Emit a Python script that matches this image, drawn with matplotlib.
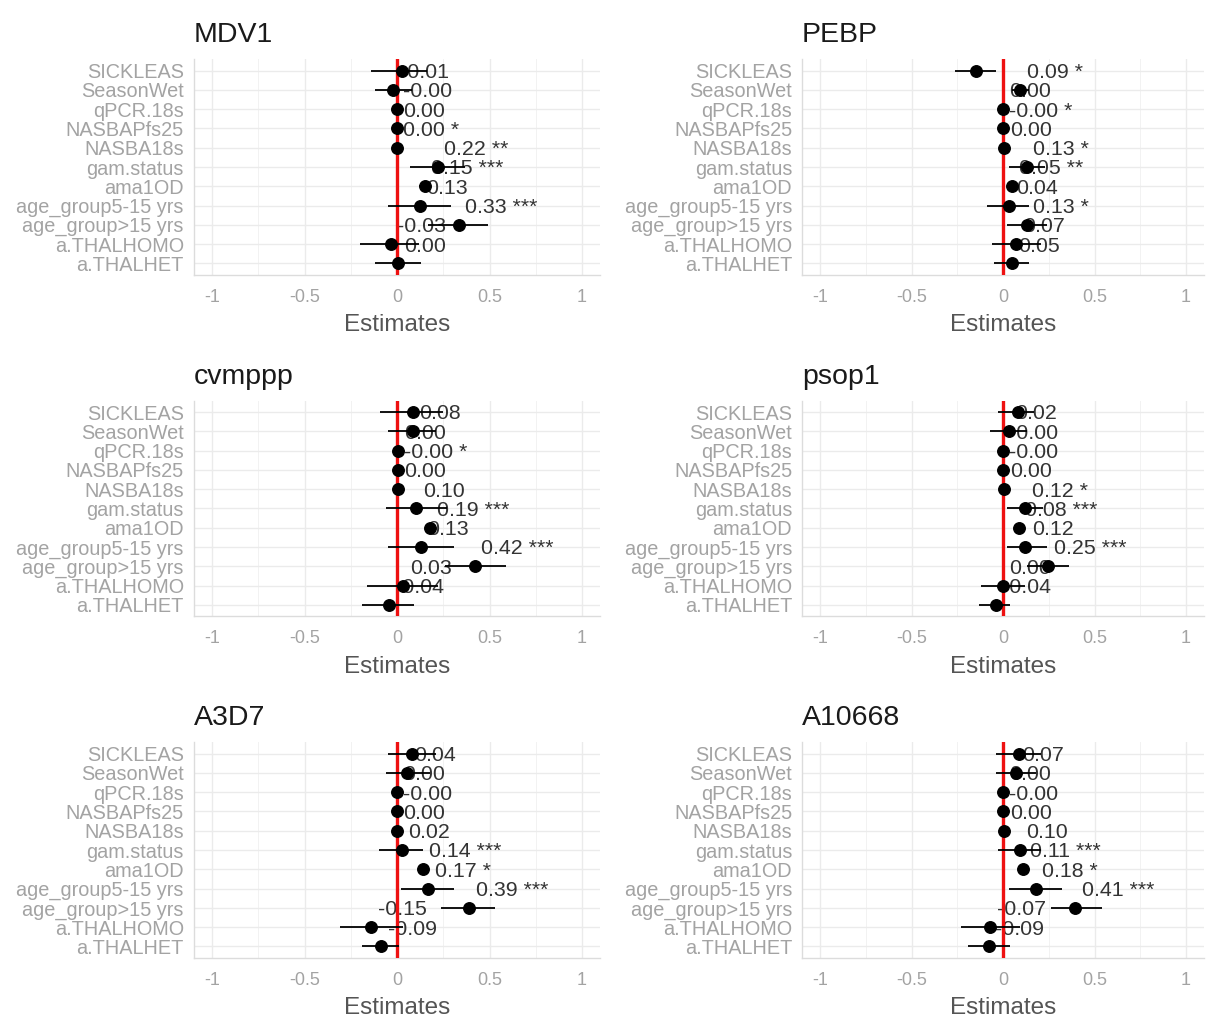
import numpy as np
import matplotlib.pyplot as plt
import matplotlib.transforms as mtransforms

plt.rcParams['font.family'] = ['Liberation Sans', 'DejaVu Sans']

terms = ['SICKLEAS', 'SeasonWet', 'qPCR.18s', 'NASBAPfs25', 'NASBA18s', 'gam.status',
         'ama1OD', 'age_group5-15 yrs', 'age_group>15 yrs', 'a.THALHOMO', 'a.THALHET']
titles = ['MDV1', 'PEBP', 'cvmppp', 'psop1', 'A3D7', 'A10668']

# estimates, confidence limits and printed labels (row order = terms)
mdv1_est = [0.025, -0.02, 0.0, 0.0, 0.0, 0.22, 0.15, 0.125, 0.335, -0.035, 0.005]
mdv1_lo = [-0.14, -0.12, -0.005, -0.005, -0.005, 0.07, 0.12, -0.05, 0.17, -0.20, -0.12]
mdv1_hi = [0.16, 0.08, 0.005, 0.005, 0.005, 0.37, 0.18, 0.29, 0.49, 0.12, 0.13]
mdv1_lab = ['0.03', '-0.01', '-0.00', '0.00', '0.00 *', '0.22 **', '0.15 ***', '0.13',
            '0.33 ***', '-0.03', '0.00']

pebp_est = [-0.15, 0.095, 0.0, 0.0, 0.005, 0.13, 0.05, 0.035, 0.13, 0.072, 0.05]
pebp_lo = [-0.26, 0.05, -0.005, -0.005, 0.0, 0.03, 0.04, -0.09, 0.02, -0.06, -0.05]
pebp_hi = [-0.04, 0.14, 0.005, 0.005, 0.01, 0.23, 0.07, 0.14, 0.24, 0.21, 0.14]
pebp_lab = ['-0.15 *', '0.09 *', '0.00', '-0.00 *', '0.00', '0.13 *', '0.05 **', '0.04',
            '0.13 *', '0.07', '0.05']

cvmppp_est = [0.085, 0.085, 0.005, 0.005, 0.005, 0.105, 0.18, 0.13, 0.42, 0.035, -0.045]
cvmppp_lo = [-0.09, -0.05, 0.0, 0.0, 0.0, -0.06, 0.16, -0.05, 0.26, -0.16, -0.19]
cvmppp_hi = [0.25, 0.21, 0.01, 0.01, 0.01, 0.27, 0.20, 0.31, 0.59, 0.22, 0.09]
cvmppp_lab = ['0.08', '0.08', '0.00', '-0.00 *', '0.00', '0.10', '0.19 ***', '0.13',
              '0.42 ***', '0.03', '-0.04']

psop1_est = [0.082, 0.03, 0.0, 0.0, 0.003, 0.122, 0.086, 0.122, 0.245, 0.0, -0.04]
psop1_lo = [-0.03, -0.07, -0.005, -0.005, -0.002, 0.02, 0.07, 0.02, 0.13, -0.12, -0.13]
psop1_hi = [0.17, 0.13, 0.005, 0.005, 0.008, 0.22, 0.10, 0.24, 0.36, 0.12, 0.04]
psop1_lab = ['0.08', '0.02', '-0.00', '-0.00', '0.00', '0.12 *', '0.08 ***', '0.12',
             '0.25 ***', '0.00', '-0.04']

a3d7_est = [0.08, 0.055, 0.0, 0.0, 0.0, 0.025, 0.14, 0.17, 0.39, -0.14, -0.085]
a3d7_lo = [-0.05, -0.06, -0.005, -0.005, -0.005, -0.10, 0.12, 0.02, 0.24, -0.31, -0.19]
a3d7_hi = [0.21, 0.18, 0.005, 0.005, 0.005, 0.14, 0.16, 0.31, 0.53, 0.03, 0.01]
a3d7_lab = ['0.08', '0.04', '0.00', '-0.00', '0.00', '0.02', '0.14 ***', '0.17 *',
            '0.39 ***', '-0.15', '-0.09']

a10668_est = [0.086, 0.07, 0.0, 0.0, 0.003, 0.09, 0.11, 0.18, 0.395, -0.07, -0.078]
a10668_lo = [-0.04, -0.04, -0.005, -0.005, -0.002, -0.03, 0.10, 0.03, 0.26, -0.23, -0.19]
a10668_hi = [0.21, 0.18, 0.005, 0.005, 0.008, 0.21, 0.12, 0.32, 0.54, 0.09, 0.04]
a10668_lab = ['0.09', '0.07', '0.00', '-0.00', '0.00', '0.10', '0.11 ***', '0.18 *',
              '0.41 ***', '-0.07', '-0.09']

panels = [
    (mdv1_est, mdv1_lo, mdv1_hi, mdv1_lab),
    (pebp_est, pebp_lo, pebp_hi, pebp_lab),
    (cvmppp_est, cvmppp_lo, cvmppp_hi, cvmppp_lab),
    (psop1_est, psop1_lo, psop1_hi, psop1_lab),
    (a3d7_est, a3d7_lo, a3d7_hi, a3d7_lab),
    (a10668_est, a10668_lo, a10668_hi, a10668_lab),
]

fig = plt.figure(figsize=(12.08, 10.23), dpi=100)

lefts = [0.1602, 0.6637]
widths = [0.3369, 0.3333]
bottoms = [0.7312, 0.3974, 0.0635]
height = 0.2111

y = np.arange(len(terms))

for i, (est, lo, hi, lab) in enumerate(panels):
    r, c = divmod(i, 2)
    ax = fig.add_axes([lefts[c], bottoms[r], widths[c], height])
    est = np.array(est)
    lo = np.array(lo)
    hi = np.array(hi)

    # value labels sit above their point and get clipped at the panel top
    trans = mtransforms.offset_copy(ax.transData, fig=fig, x=0, y=12.5, units='points')
    for k in range(len(terms)):
        ax.text(est[k] + 0.035, y[k], lab[k], transform=trans, ha='left', va='center',
                fontsize=15.4, color='#333333', clip_on=True, zorder=2)

    ax.axvline(0, color='#ee1111', lw=2.4, zorder=3)
    ax.hlines(y, lo, hi, color='black', lw=1.3, zorder=4)
    ax.plot(est, y, 'o', color='black', ms=8.3, zorder=5)

    ax.set_xlim(-1.1, 1.1)
    ax.set_ylim(len(terms) - 0.4, -0.6)
    ax.set_yticks(y)
    ax.set_yticklabels(terms)
    ax.set_xticks([-1, -0.5, 0, 0.5, 1])
    ax.set_xticklabels(['-1', '-0.5', '0', '0.5', '1'])
    ax.set_xticks([-0.75, -0.25, 0.25, 0.75], minor=True)

    ax.grid(which='major', color='#ebebeb', lw=1.0, zorder=0)
    ax.grid(which='minor', axis='x', color='#f2f2f2', lw=0.7, zorder=0)
    ax.set_axisbelow(True)
    ax.tick_params(which='both', length=0)
    ax.tick_params(axis='y', labelsize=14.3, labelcolor='#a3a3a3', pad=7)
    ax.tick_params(axis='x', labelsize=13, labelcolor='#a3a3a3', pad=10)

    for side in ['top', 'right']:
        ax.spines[side].set_visible(False)
    for side in ['left', 'bottom']:
        ax.spines[side].set_color('#dcdcdc')
        ax.spines[side].set_linewidth(1.0)

    ax.set_xlabel('Estimates', fontsize=17.5, color='#555555', labelpad=6)
    ax.set_title(titles[i], loc='left', fontsize=20.5, color='#1a1a1a', pad=12)

fig.savefig('out.png', dpi=100)
